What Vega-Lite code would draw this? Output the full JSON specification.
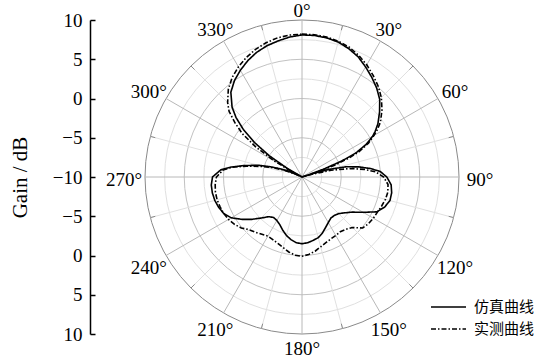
{
  "$schema": "https://vega.github.io/schema/vega-lite/v6.json",
  "width": 314,
  "height": 314,
  "autosize": {"type": "none"},
  "padding": {"left": 145, "top": 20, "right": 99, "bottom": 27},
  "background": "white",
  "config": {"view": {"stroke": null}},
  "datasets": {
    "rings": [{"g": -7.5}, {"g": -5}, {"g": -2.5}, {"g": 0}, {"g": 2.5}, {"g": 5}, {"g": 7.5}, {"g": 10}],
    "spokes": [{"a": 0}, {"a": 15}, {"a": 30}, {"a": 45}, {"a": 60}, {"a": 75}, {"a": 90}, {"a": 105}, {"a": 120}, {"a": 135}, {"a": 150}, {"a": 165}, {"a": 180}, {"a": 195}, {"a": 210}, {"a": 225}, {"a": 240}, {"a": 255}, {"a": 270}, {"a": 285}, {"a": 300}, {"a": 315}, {"a": 330}, {"a": 345}],
    "angleLabels": [{"a": 0}, {"a": 30}, {"a": 60}, {"a": 90}, {"a": 120}, {"a": 150}, {"a": 180}, {"a": 210}, {"a": 240}, {"a": 270}, {"a": 300}, {"a": 330}],
    "pattern": [
      {"series": "仿真曲线", "angle": 0, "gain": 8.1},
      {"series": "仿真曲线", "angle": 5, "gain": 8.1},
      {"series": "仿真曲线", "angle": 10, "gain": 8.0},
      {"series": "仿真曲线", "angle": 15, "gain": 7.8},
      {"series": "仿真曲线", "angle": 20, "gain": 7.4},
      {"series": "仿真曲线", "angle": 25, "gain": 6.9},
      {"series": "仿真曲线", "angle": 30, "gain": 6.2},
      {"series": "仿真曲线", "angle": 35, "gain": 5.5},
      {"series": "仿真曲线", "angle": 40, "gain": 4.8},
      {"series": "仿真曲线", "angle": 45, "gain": 4.0},
      {"series": "仿真曲线", "angle": 50, "gain": 2.9},
      {"series": "仿真曲线", "angle": 55, "gain": 1.8},
      {"series": "仿真曲线", "angle": 58, "gain": 1.0},
      {"series": "仿真曲线", "angle": 60, "gain": 0.4},
      {"series": "仿真曲线", "angle": 63, "gain": -0.8},
      {"series": "仿真曲线", "angle": 66, "gain": -2.5},
      {"series": "仿真曲线", "angle": 68, "gain": -4.5},
      {"series": "仿真曲线", "angle": 70, "gain": -7},
      {"series": "仿真曲线", "angle": 71, "gain": -9},
      {"series": "仿真曲线", "angle": 72, "gain": -10},
      {"series": "仿真曲线", "angle": 73, "gain": -8.5},
      {"series": "仿真曲线", "angle": 74, "gain": -6.5},
      {"series": "仿真曲线", "angle": 77, "gain": -4.2},
      {"series": "仿真曲线", "angle": 80, "gain": -2.6},
      {"series": "仿真曲线", "angle": 83, "gain": -1.2},
      {"series": "仿真曲线", "angle": 86, "gain": 0},
      {"series": "仿真曲线", "angle": 90, "gain": 0.8},
      {"series": "仿真曲线", "angle": 95, "gain": 1.4},
      {"series": "仿真曲线", "angle": 100, "gain": 1.6},
      {"series": "仿真曲线", "angle": 105, "gain": 1.6},
      {"series": "仿真曲线", "angle": 110, "gain": 1.2},
      {"series": "仿真曲线", "angle": 115, "gain": 0.5},
      {"series": "仿真曲线", "angle": 120, "gain": -1.0},
      {"series": "仿真曲线", "angle": 125, "gain": -2.2},
      {"series": "仿真曲线", "angle": 130, "gain": -2.9},
      {"series": "仿真曲线", "angle": 135, "gain": -3.4},
      {"series": "仿真曲线", "angle": 140, "gain": -3.6},
      {"series": "仿真曲线", "angle": 145, "gain": -3.6},
      {"series": "仿真曲线", "angle": 150, "gain": -3.3},
      {"series": "仿真曲线", "angle": 155, "gain": -2.9},
      {"series": "仿真曲线", "angle": 160, "gain": -2.4},
      {"series": "仿真曲线", "angle": 165, "gain": -2.0},
      {"series": "仿真曲线", "angle": 170, "gain": -1.8},
      {"series": "仿真曲线", "angle": 175, "gain": -1.6},
      {"series": "仿真曲线", "angle": 180, "gain": -1.5},
      {"series": "仿真曲线", "angle": 185, "gain": -1.6},
      {"series": "仿真曲线", "angle": 190, "gain": -1.9},
      {"series": "仿真曲线", "angle": 195, "gain": -2.3},
      {"series": "仿真曲线", "angle": 200, "gain": -2.8},
      {"series": "仿真曲线", "angle": 205, "gain": -3.3},
      {"series": "仿真曲线", "angle": 210, "gain": -3.6},
      {"series": "仿真曲线", "angle": 215, "gain": -3.7},
      {"series": "仿真曲线", "angle": 220, "gain": -3.4},
      {"series": "仿真曲线", "angle": 225, "gain": -2.6},
      {"series": "仿真曲线", "angle": 230, "gain": -1.6},
      {"series": "仿真曲线", "angle": 235, "gain": -0.6},
      {"series": "仿真曲线", "angle": 240, "gain": 0.4},
      {"series": "仿真曲线", "angle": 245, "gain": 1.0},
      {"series": "仿真曲线", "angle": 250, "gain": 1.3},
      {"series": "仿真曲线", "angle": 255, "gain": 1.5},
      {"series": "仿真曲线", "angle": 260, "gain": 1.6},
      {"series": "仿真曲线", "angle": 265, "gain": 1.6},
      {"series": "仿真曲线", "angle": 270, "gain": 1.4},
      {"series": "仿真曲线", "angle": 275, "gain": 0.4},
      {"series": "仿真曲线", "angle": 278, "gain": -0.9},
      {"series": "仿真曲线", "angle": 281, "gain": -2.4},
      {"series": "仿真曲线", "angle": 285, "gain": -4.2},
      {"series": "仿真曲线", "angle": 288, "gain": -5.8},
      {"series": "仿真曲线", "angle": 290, "gain": -6.8},
      {"series": "仿真曲线", "angle": 293, "gain": -8},
      {"series": "仿真曲线", "angle": 296, "gain": -9.5},
      {"series": "仿真曲线", "angle": 298, "gain": -10},
      {"series": "仿真曲线", "angle": 300, "gain": -8},
      {"series": "仿真曲线", "angle": 303, "gain": -5},
      {"series": "仿真曲线", "angle": 306, "gain": -2.5},
      {"series": "仿真曲线", "angle": 309, "gain": -0.4},
      {"series": "仿真曲线", "angle": 312, "gain": 1.3},
      {"series": "仿真曲线", "angle": 315, "gain": 2.6},
      {"series": "仿真曲线", "angle": 320, "gain": 4.1},
      {"series": "仿真曲线", "angle": 325, "gain": 5.0},
      {"series": "仿真曲线", "angle": 330, "gain": 5.7},
      {"series": "仿真曲线", "angle": 335, "gain": 6.35},
      {"series": "仿真曲线", "angle": 340, "gain": 6.9},
      {"series": "仿真曲线", "angle": 345, "gain": 7.3},
      {"series": "仿真曲线", "angle": 350, "gain": 7.6},
      {"series": "仿真曲线", "angle": 355, "gain": 7.9},
      {"series": "仿真曲线", "angle": 360, "gain": 8.1},
      {"series": "实测曲线", "angle": 0, "gain": 8.2},
      {"series": "实测曲线", "angle": 5, "gain": 8.2},
      {"series": "实测曲线", "angle": 10, "gain": 8.1},
      {"series": "实测曲线", "angle": 15, "gain": 7.9},
      {"series": "实测曲线", "angle": 20, "gain": 7.6},
      {"series": "实测曲线", "angle": 25, "gain": 7.1},
      {"series": "实测曲线", "angle": 30, "gain": 6.5},
      {"series": "实测曲线", "angle": 35, "gain": 5.8},
      {"series": "实测曲线", "angle": 40, "gain": 5.1},
      {"series": "实测曲线", "angle": 45, "gain": 4.3},
      {"series": "实测曲线", "angle": 50, "gain": 3.3},
      {"series": "实测曲线", "angle": 55, "gain": 2.2},
      {"series": "实测曲线", "angle": 58, "gain": 1.3},
      {"series": "实测曲线", "angle": 60, "gain": 0.6},
      {"series": "实测曲线", "angle": 63, "gain": -0.5},
      {"series": "实测曲线", "angle": 66, "gain": -2.0},
      {"series": "实测曲线", "angle": 68, "gain": -3.5},
      {"series": "实测曲线", "angle": 70, "gain": -5.5},
      {"series": "实测曲线", "angle": 72, "gain": -8},
      {"series": "实测曲线", "angle": 73, "gain": -9.5},
      {"series": "实测曲线", "angle": 74, "gain": -10},
      {"series": "实测曲线", "angle": 75, "gain": -8.5},
      {"series": "实测曲线", "angle": 77, "gain": -6.2},
      {"series": "实测曲线", "angle": 80, "gain": -3.8},
      {"series": "实测曲线", "angle": 83, "gain": -2.0},
      {"series": "实测曲线", "angle": 86, "gain": -0.6},
      {"series": "实测曲线", "angle": 90, "gain": 0.4},
      {"series": "实测曲线", "angle": 95, "gain": 1.0},
      {"series": "实测曲线", "angle": 100, "gain": 1.1},
      {"series": "实测曲线", "angle": 105, "gain": 1.0},
      {"series": "实测曲线", "angle": 110, "gain": 0.8},
      {"series": "实测曲线", "angle": 115, "gain": 0.6},
      {"series": "实测曲线", "angle": 120, "gain": 0.5},
      {"series": "实测曲线", "angle": 125, "gain": 0.35},
      {"series": "实测曲线", "angle": 130, "gain": 0.1},
      {"series": "实测曲线", "angle": 135, "gain": -0.9},
      {"series": "实测曲线", "angle": 140, "gain": -1.3},
      {"series": "实测曲线", "angle": 145, "gain": -1.5},
      {"series": "实测曲线", "angle": 150, "gain": -1.4},
      {"series": "实测曲线", "angle": 155, "gain": -1.3},
      {"series": "实测曲线", "angle": 160, "gain": -1.1},
      {"series": "实测曲线", "angle": 165, "gain": -0.8},
      {"series": "实测曲线", "angle": 170, "gain": -0.4},
      {"series": "实测曲线", "angle": 175, "gain": -0.1},
      {"series": "实测曲线", "angle": 180, "gain": 0.1},
      {"series": "实测曲线", "angle": 185, "gain": 0.0},
      {"series": "实测曲线", "angle": 190, "gain": -0.3},
      {"series": "实测曲线", "angle": 195, "gain": -0.7},
      {"series": "实测曲线", "angle": 200, "gain": -1.0},
      {"series": "实测曲线", "angle": 205, "gain": -1.2},
      {"series": "实测曲线", "angle": 210, "gain": -1.3},
      {"series": "实测曲线", "angle": 215, "gain": -1.1},
      {"series": "实测曲线", "angle": 220, "gain": -0.8},
      {"series": "实测曲线", "angle": 225, "gain": -0.5},
      {"series": "实测曲线", "angle": 230, "gain": 0.1},
      {"series": "实测曲线", "angle": 235, "gain": 0.5},
      {"series": "实测曲线", "angle": 240, "gain": 0.8},
      {"series": "实测曲线", "angle": 245, "gain": 1.0},
      {"series": "实测曲线", "angle": 250, "gain": 1.1},
      {"series": "实测曲线", "angle": 255, "gain": 1.2},
      {"series": "实测曲线", "angle": 260, "gain": 1.2},
      {"series": "实测曲线", "angle": 265, "gain": 1.1},
      {"series": "实测曲线", "angle": 270, "gain": 0.9},
      {"series": "实测曲线", "angle": 275, "gain": 0.1},
      {"series": "实测曲线", "angle": 278, "gain": -1.0},
      {"series": "实测曲线", "angle": 281, "gain": -2.8},
      {"series": "实测曲线", "angle": 285, "gain": -4.8},
      {"series": "实测曲线", "angle": 288, "gain": -6.3},
      {"series": "实测曲线", "angle": 290, "gain": -7.3},
      {"series": "实测曲线", "angle": 293, "gain": -8.8},
      {"series": "实测曲线", "angle": 296, "gain": -10},
      {"series": "实测曲线", "angle": 298, "gain": -8.5},
      {"series": "实测曲线", "angle": 300, "gain": -6},
      {"series": "实测曲线", "angle": 303, "gain": -3.0},
      {"series": "实测曲线", "angle": 306, "gain": -0.6},
      {"series": "实测曲线", "angle": 309, "gain": 1.0},
      {"series": "实测曲线", "angle": 312, "gain": 2.5},
      {"series": "实测曲线", "angle": 315, "gain": 3.4},
      {"series": "实测曲线", "angle": 320, "gain": 4.6},
      {"series": "实测曲线", "angle": 325, "gain": 5.5},
      {"series": "实测曲线", "angle": 330, "gain": 6.2},
      {"series": "实测曲线", "angle": 335, "gain": 6.8},
      {"series": "实测曲线", "angle": 340, "gain": 7.3},
      {"series": "实测曲线", "angle": 345, "gain": 7.7},
      {"series": "实测曲线", "angle": 350, "gain": 8.0},
      {"series": "实测曲线", "angle": 355, "gain": 8.15},
      {"series": "实测曲线", "angle": 360, "gain": 8.2}
    ]
  },
  "encoding": {
    "x": {"field": "px", "type": "quantitative", "scale": {"domain": [-20, 20], "nice": false, "zero": false}, "axis": null},
    "y": {
      "field": "py", "type": "quantitative",
      "scale": {"domain": [-20, 20], "nice": false, "zero": false},
      "axis": {
        "values": [-20, -15, -10, -5, 0, 5, 10, 15, 20],
        "labelExpr": "format(abs(datum.value) - 10, 'd')",
        "offset": 55,
        "grid": false,
        "domainColor": "black",
        "domainWidth": 1.5,
        "tickColor": "black",
        "tickWidth": 1.5,
        "tickSize": -5,
        "labelPadding": 13,
        "labelFont": "Liberation Serif",
        "labelFontSize": 19,
        "labelColor": "black",
        "title": "Gain / dB",
        "titleFont": "Liberation Serif",
        "titleFontSize": 21,
        "titleFontWeight": "normal",
        "titleColor": "black",
        "titleAngle": -90,
        "titleBaseline": "middle",
        "titleAlign": "center",
        "titleX": -70,
        "titleY": 157
      }
    }
  },
  "layer": [
    {
      "data": {"name": "rings"},
      "transform": [
        {"calculate": "datum.g + 10", "as": "rr"},
        {"calculate": "0", "as": "px"},
        {"calculate": "0", "as": "py"}
      ],
      "mark": {"type": "point", "shape": "circle", "filled": false, "opacity": 1, "strokeWidth": 1},
      "encoding": {
        "size": {"field": "rr", "type": "quantitative", "scale": {"type": "pow", "exponent": 2, "domain": [0, 20], "range": [0, 98596], "zero": true}, "legend": null},
        "stroke": {"condition": [{"test": "datum.g == 10", "value": "#8a8a8a"}, {"test": "datum.g % 5 == 0", "value": "#c2c2c2"}], "value": "#e0e0e0"}
      }
    },
    {
      "data": {"name": "spokes"},
      "transform": [
        {"calculate": "datum.a % 30 == 0 ? 0 : 2.5", "as": "r0"},
        {"calculate": "datum.r0 * sin(datum.a * PI / 180)", "as": "px"},
        {"calculate": "datum.r0 * cos(datum.a * PI / 180)", "as": "py"},
        {"calculate": "20 * sin(datum.a * PI / 180)", "as": "px2"},
        {"calculate": "20 * cos(datum.a * PI / 180)", "as": "py2"}
      ],
      "mark": {"type": "rule", "strokeWidth": 1},
      "encoding": {
        "x2": {"field": "px2"},
        "y2": {"field": "py2"},
        "stroke": {"condition": {"test": "datum.a % 30 == 0", "value": "#b8b8b8"}, "value": "#e0e0e0"}
      }
    },
    {
      "data": {"name": "spokes"},
      "transform": [
        {"filter": "datum.a % 30 != 0"},
        {"calculate": "19.35 * sin(datum.a * PI / 180)", "as": "px"},
        {"calculate": "19.35 * cos(datum.a * PI / 180)", "as": "py"},
        {"calculate": "20 * sin(datum.a * PI / 180)", "as": "px2"},
        {"calculate": "20 * cos(datum.a * PI / 180)", "as": "py2"}
      ],
      "mark": {"type": "rule", "strokeWidth": 1, "color": "#8a8a8a"},
      "encoding": {"x2": {"field": "px2"}, "y2": {"field": "py2"}}
    },
    {
      "data": {"name": "pattern"},
      "transform": [
        {"calculate": "(datum.gain + 10) * sin(datum.angle * PI / 180)", "as": "px"},
        {"calculate": "(datum.gain + 10) * cos(datum.angle * PI / 180)", "as": "py"}
      ],
      "mark": {"type": "line", "color": "black", "strokeWidth": 1.6},
      "encoding": {
        "order": {"field": "angle", "type": "quantitative"},
        "strokeDash": {
          "field": "series", "type": "nominal",
          "scale": {"domain": ["仿真曲线", "实测曲线"], "range": [[1, 0], [5, 2, 1.5, 2]]},
          "legend": {
            "title": null,
            "orient": "none",
            "legendX": 285,
            "legendY": 276,
            "padding": 0,
            "symbolType": "stroke",
            "symbolSize": 1225,
            "symbolStrokeWidth": 1.6,
            "symbolStrokeColor": "black",
            "labelFont": "Noto Sans CJK SC",
            "labelFontSize": 15,
            "labelColor": "black",
            "labelOffset": 7,
            "clipHeight": 22,
            "rowPadding": 0
          }
        }
      }
    },
    {
      "data": {"name": "angleLabels"},
      "transform": [
        {"calculate": "datum.a + '°'", "as": "txt"},
        {"calculate": "21.53 + 1.15 * abs(sin(datum.a * PI / 180))", "as": "R"},
        {"calculate": "datum.R * sin(datum.a * PI / 180)", "as": "px"},
        {"calculate": "datum.R * cos(datum.a * PI / 180)", "as": "py"}
      ],
      "mark": {"type": "text", "font": "Liberation Serif", "fontSize": 19, "align": "center", "baseline": "middle", "dy": 3, "color": "black"},
      "encoding": {"text": {"field": "txt", "type": "nominal"}}
    }
  ]
}
